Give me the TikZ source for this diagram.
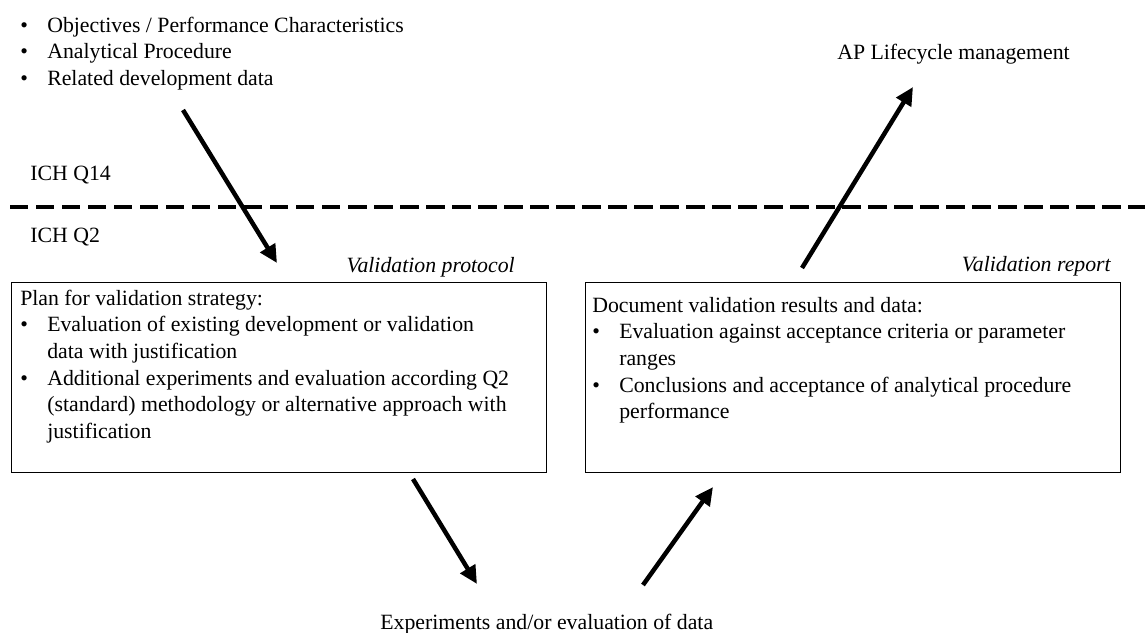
\documentclass[tikz,border=0pt]{standalone}
\usepackage{fontspec}
\setmainfont{Liberation Serif}
\usetikzlibrary{arrows.meta}
\newcommand{\bl}{\textbullet}
\begin{document}
\begin{tikzpicture}[x=0.025cm, y=-0.025cm, >={Triangle[length=0.45cm,width=0.42cm]},
	every node/.style={inner sep=0pt, font=\fontsize{15.5}{19}\selectfont},
	boxnode/.style={draw, line width=0.9pt, minimum width=13.375cm, minimum height=4.75cm, anchor=north west},
	arr/.style={->, line width=3.2pt},
	sepline/.style={line width=2.4pt, dash pattern=on 0.46cm off 0.19cm}]
	\useasboundingbox (0,0) rectangle (1145,632);
	\node[anchor=base west] (inputs) at (20,32) {\begin{tabular}[t]{@{}p{0.675cm}@{}l@{}}
			\bl & Objectives / Performance Characteristics\\
			\bl & Analytical Procedure\\
			\bl & Related development data
		\end{tabular}};% inputs
	\node[anchor=base west] (aplc) at (837,59) {AP Lifecycle management};
	\node[anchor=base west] (q14) at (30,180) {ICH Q14};
	\node[anchor=base west] (q2) at (30,242) {ICH Q2};
	\coordinate (sepL) at (10,207); \coordinate (sepR) at (1145,207);
	\draw[sepline] (sepL) -- (sepR); % Q14 / Q2
	\node[boxnode] (protocol) at (11,282) {};
	\node[boxnode] (report) at (585,282) {};
	\node[anchor=base east, font=\fontsize{15.5}{19}\selectfont\itshape] (protlabel) at (515,272) {Validation protocol};
	\node[anchor=base east, font=\fontsize{15.5}{19}\selectfont\itshape] (replabel) at (1111,271) {Validation report};
	\node[anchor=base west] (protocoltext) at (20,305) {\begin{tabular}[t]{@{}p{0.675cm}@{}l@{}}
			\multicolumn{2}{@{}l@{}}{Plan for validation strategy:}\\
			\bl & Evaluation of existing development or validation\\
			& data with justification\\
			\bl & Additional experiments and evaluation according Q2\\
			& (standard) methodology or alternative approach with\\
			& justification
		\end{tabular}};
	\node[anchor=base west] (reporttext) at (592,312) {\begin{tabular}[t]{@{}p{0.675cm}@{}l@{}}
			\multicolumn{2}{@{}l@{}}{Document validation results and data:}\\
			\bl & Evaluation against acceptance criteria or parameter\\
			& ranges\\
			\bl & Conclusions and acceptance of analytical procedure\\
			& performance
		\end{tabular}};
	\node[anchor=base west] (expdata) at (380,629) {Experiments and/or evaluation of data};
	% arrows
	\coordinate (in1) at (183,110); \coordinate (in2) at (277,263);
	\coordinate (ap1) at (802,268); \coordinate (ap2) at (913,87);
	\coordinate (ex1) at (413,479); \coordinate (ex2) at (477,584);
	\coordinate (ev1) at (643,585); \coordinate (ev2) at (713,487);
	\foreach \s/\t in {in1/in2, ap1/ap2, ex1/ex2, ev1/ev2}{\draw[arr] (\s)--(\t);}
\end{tikzpicture}
\end{document}
